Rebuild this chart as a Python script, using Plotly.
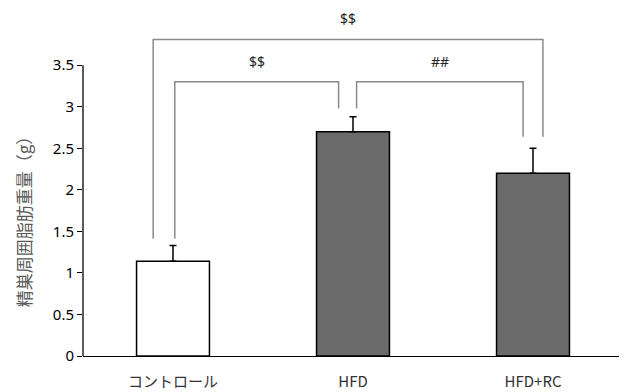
import plotly.graph_objects as go

categories = ["コントロール", "HFD", "HFD+RC"]
means = [1.14, 2.70, 2.20]
errors = [0.19, 0.18, 0.30]
bar_colors = ["#ffffff", "#6b6b6b", "#6b6b6b"]
tick_vals = [0, 0.5, 1, 1.5, 2, 2.5, 3, 3.5]
tick_text = ["0", "0.5", "1", "1.5", "2", "2.5", "3", "3.5"]
y_title = "精巣周囲脂肪重量（g）"

# significance brackets: (x_left, x_right, y_top, y_leg_left, y_leg_right, label)
brackets = [
    (-0.11, 2.055, 3.81, 1.41, 2.64, "$$"),
    (0.01, 0.92, 3.30, 1.41, 2.98, "$$"),
    (1.02, 1.945, 3.30, 2.98, 2.64, "##"),
]

x_idx = list(range(len(categories)))

fig = go.Figure()
fig.add_trace(go.Bar(
    x=x_idx, y=means, width=0.405,
    marker=dict(color=bar_colors, line=dict(color="#000000", width=1.5)),
    error_y=dict(type="data", array=errors, arrayminus=[0] * len(errors),
                 symmetric=False, color="#000000", thickness=1.5, width=3.5),
    showlegend=False,
))

shapes = []
annotations = []
gray = "#8a8a8a"
for xl, xr, yt, yl, yr, lab in brackets:
    shapes.append(dict(type="path", xref="x", yref="y",
                       path=f"M {xl},{yl} L {xl},{yt} L {xr},{yt} L {xr},{yr}",
                       line=dict(color=gray, width=1.5)))
    annotations.append(dict(x=(xl + xr) / 2, y=yt, xref="x", yref="y",
                            text=lab, showarrow=False, yanchor="bottom", yshift=9,
                            font=dict(family="Noto Sans", size=14, color="#222222")))

# y axis line only up to 3.5
shapes.append(dict(type="line", xref="paper", yref="y", x0=0, x1=0, y0=0, y1=3.5,
                   line=dict(color="#000000", width=1.3)))

annotations.append(dict(x=0, y=1.67, xref="paper", yref="y", text=y_title,
                        textangle=-90, showarrow=False, xanchor="center", yanchor="middle",
                        xshift=-60,
                        font=dict(family="Noto Sans CJK JP", size=17, color="#595959")))

# page body has an 8px margin; size the figure so the plot lands where the reference has it
fig.update_layout(
    width=619, height=384,
    margin=dict(l=75, r=4, t=24, b=36),
    paper_bgcolor="#ffffff", plot_bgcolor="#ffffff",
    shapes=shapes, annotations=annotations,
    xaxis=dict(range=[-0.5, 2.5], tickvals=x_idx, ticktext=categories,
               showline=True, linecolor="#000000", linewidth=1.3,
               ticks="", showgrid=False, zeroline=False,
               ticklabelstandoff=12, automargin=False,
               tickfont=dict(family="Noto Sans CJK JP", size=15, color="#333333")),
    yaxis=dict(range=[0, 3.9], tickvals=tick_vals, ticktext=tick_text,
               showline=False, ticks="outside", ticklen=5, tickcolor="#000000",
               tickwidth=1.3, showgrid=False, zeroline=False,
               tickfont=dict(family="Noto Sans", size=15, color="#000000")),
)

fig.write_html("out.html")
